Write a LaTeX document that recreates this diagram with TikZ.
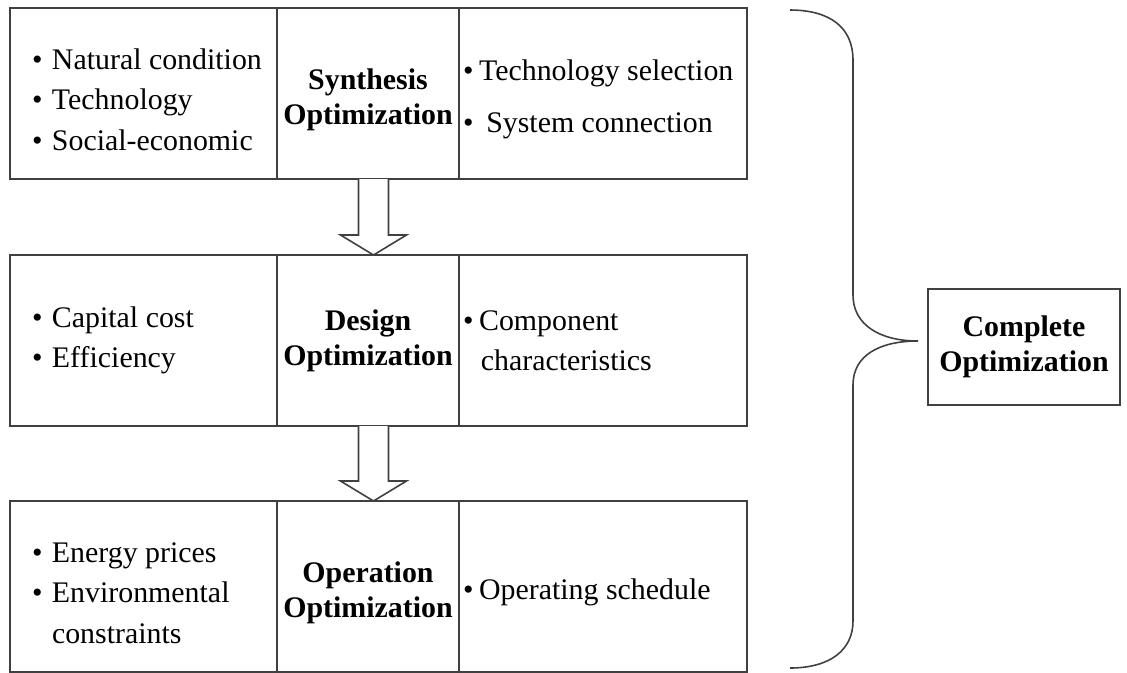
\documentclass[tikz,border=0pt]{standalone}
\usepackage{fontspec}
\setmainfont{Liberation Serif}
\usetikzlibrary{positioning}
\newcommand{\bul}[1][0.67em]{\makebox[#1][l]{\textbullet}}
\newcommand{\dropstrut}{\rule{0pt}{0.65cm}}

\begin{document}
\begin{tikzpicture}
[cell/.style={draw=black!75, line width=0.9pt, minimum height=3.42cm, outer sep=0pt, inner ysep=0pt, font=\fontsize{17}{23}\selectfont},
inbox/.style={cell, minimum width=5.34cm, text width=4.46cm, inner xsep=0.44cm, align=flush left},
midbox/.style={cell, minimum width=3.64cm, align=center, font=\fontsize{17}{20}\selectfont\bfseries},
outbox/.style={cell, minimum width=5.76cm, text width=5.6cm, inner xsep=0.08cm, align=flush left},
goalbox/.style={cell, minimum width=3.84cm, minimum height=2.32cm, align=center, font=\fontsize{17}{20}\selectfont\bfseries},
blockarr/.style={draw=black!75, line width=0.9pt, fill=white},
brace/.style={draw=black!75, line width=0.9pt},
node distance=1.52cm]
    \useasboundingbox (0,0) rectangle (22.54,-13.44);

    % synthesis level
    \node (syn1) [inbox] at (2.87,-1.87) {\dropstrut\mbox{\bul Natural condition}\\ \bul Technology\\ \bul Social-economic};
    \node (syn2) [midbox, right=0pt of syn1] {\dropstrut Synthesis\\ Optimization};
    \node (syn3) [outbox, right=0pt of syn2] {\dropstrut\mbox{\bul[0.54em]Technology selection}\\[0.24cm] \bul[0.78em]System connection};

    % design level
    \node (des1) [inbox, below=1.52cm of syn1] {\bul Capital cost\\ \bul Efficiency};
    \node (des2) [midbox, right=0pt of des1] {Design\\ Optimization};
    \node (des3) [outbox, right=0pt of des2] {\bul[0.54em]Component\\ \hspace*{0.6em}characteristics};

    % operation level
    \node (ope1) [inbox, below=1.50cm of des1] {\dropstrut\bul Energy prices\\ \bul Environmental\\ \hspace*{0.67em}constraints};
    \node (ope2) [midbox, right=0pt of ope1] {\dropstrut Operation\\ Optimization};
    \node (ope3) [outbox, right=0pt of ope2] {\dropstrut\bul[0.54em]Operating schedule};

    \node (cmp) [goalbox] at (20.48,-6.94) {Complete\\ Optimization};

    \draw[blockarr] ([xshift=-0.19cm]syn2.south) -- ++(0,-1.12) -- ++(-0.36,0) -- ([xshift=0.11cm]des2.north) -- ++(0.66,0.4) -- ++(-0.36,0) -- ++(0,1.12);
    \draw[blockarr] ([xshift=-0.19cm]des2.south) -- ++(0,-1.10) -- ++(-0.36,0) -- ([xshift=0.11cm]ope2.north) -- ++(0.66,0.4) -- ++(-0.36,0) -- ++(0,1.10);

    % brace
    \draw[brace] (15.8,-0.2) .. controls (16.6,-0.2) and (17.06,-0.55) .. (17.06,-1.2) -- (17.06,-5.9)
        .. controls (17.06,-6.5) and (17.6,-6.82) .. (18.36,-6.82)
        .. controls (17.6,-6.82) and (17.06,-7.1) .. (17.06,-7.7) -- (17.06,-12.42)
        .. controls (17.06,-13.0) and (16.6,-13.36) .. (15.8,-13.36);
\end{tikzpicture}
\end{document}
